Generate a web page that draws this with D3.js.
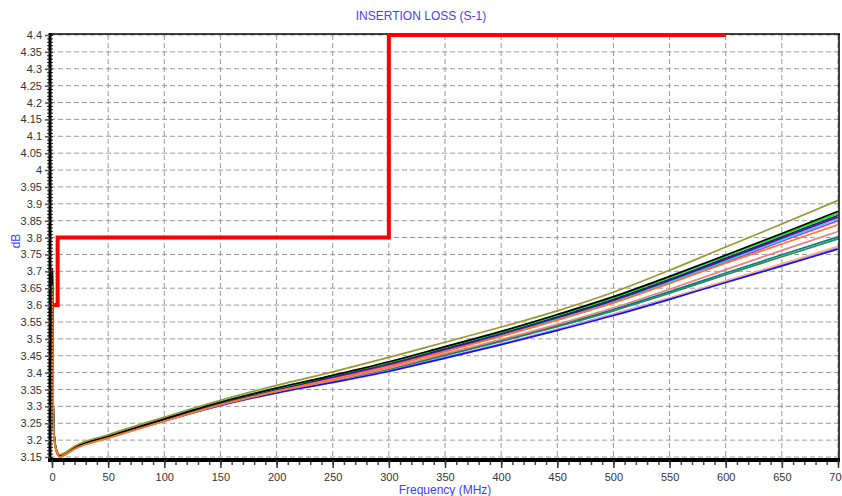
<!DOCTYPE html>
<html>
<head>
<meta charset="utf-8">
<script src="https://cdn.jsdelivr.net/npm/d3@7"></script>
<style>
  body { margin: 0; background: #fff; }
  svg { display: block; font-family: "Liberation Sans", Arial, sans-serif; }
</style>
</head>
<body>
<div id="chart"></div>
<script>
// frequency points (MHz)
const freq = [0.3, 1, 2, 4, 7, 10, 20, 50, 100, 150, 200, 250, 300, 350, 400, 450, 500, 550, 600, 650, 700];

// measured insertion loss (dB), one array per trace
const olive    = [3.66, 3.31, 3.21, 3.172, 3.157, 3.160, 3.182, 3.216, 3.268, 3.318, 3.362, 3.402, 3.445, 3.490, 3.535, 3.583, 3.638, 3.703, 3.772, 3.840, 3.910];
const black    = [3.70, 3.32, 3.21, 3.170, 3.154, 3.157, 3.178, 3.211, 3.263, 3.312, 3.354, 3.392, 3.432, 3.477, 3.522, 3.572, 3.625, 3.685, 3.748, 3.812, 3.878];
const lime     = [3.68, 3.31, 3.21, 3.170, 3.154, 3.157, 3.178, 3.211, 3.264, 3.312, 3.353, 3.391, 3.430, 3.475, 3.520, 3.570, 3.622, 3.682, 3.745, 3.808, 3.872];
const navy     = [3.69, 3.31, 3.21, 3.169, 3.153, 3.156, 3.177, 3.210, 3.262, 3.310, 3.351, 3.388, 3.427, 3.471, 3.516, 3.565, 3.617, 3.676, 3.739, 3.802, 3.866];
const purple   = [3.71, 3.32, 3.21, 3.169, 3.153, 3.156, 3.177, 3.210, 3.262, 3.310, 3.350, 3.387, 3.425, 3.469, 3.514, 3.563, 3.614, 3.673, 3.735, 3.798, 3.861];
const cyan     = [3.64, 3.30, 3.20, 3.168, 3.153, 3.157, 3.179, 3.213, 3.266, 3.314, 3.355, 3.390, 3.426, 3.469, 3.513, 3.560, 3.611, 3.669, 3.731, 3.793, 3.856];
const magenta  = [3.66, 3.31, 3.21, 3.168, 3.152, 3.155, 3.176, 3.209, 3.261, 3.309, 3.349, 3.384, 3.422, 3.466, 3.510, 3.557, 3.608, 3.666, 3.727, 3.789, 3.850];
const salmon   = [3.62, 3.30, 3.20, 3.166, 3.151, 3.154, 3.174, 3.206, 3.257, 3.305, 3.344, 3.377, 3.413, 3.456, 3.498, 3.543, 3.592, 3.647, 3.705, 3.762, 3.818];
const teal     = [3.65, 3.31, 3.21, 3.168, 3.153, 3.156, 3.177, 3.210, 3.260, 3.307, 3.345, 3.377, 3.412, 3.453, 3.495, 3.540, 3.587, 3.640, 3.695, 3.749, 3.802];
const seagreen = [3.64, 3.30, 3.21, 3.168, 3.152, 3.156, 3.177, 3.209, 3.259, 3.306, 3.344, 3.376, 3.410, 3.451, 3.492, 3.536, 3.583, 3.635, 3.690, 3.743, 3.796];
const blue     = [3.67, 3.31, 3.21, 3.168, 3.152, 3.155, 3.175, 3.207, 3.257, 3.303, 3.340, 3.371, 3.404, 3.443, 3.483, 3.525, 3.569, 3.617, 3.667, 3.716, 3.766];
const peach    = [3.61, 3.30, 3.20, 3.166, 3.151, 3.154, 3.174, 3.206, 3.256, 3.302, 3.339, 3.370, 3.403, 3.443, 3.483, 3.526, 3.571, 3.620, 3.671, 3.722, 3.774];
const lavender = [3.65, 3.31, 3.21, 3.167, 3.152, 3.155, 3.175, 3.207, 3.257, 3.303, 3.340, 3.372, 3.405, 3.445, 3.485, 3.528, 3.573, 3.621, 3.671, 3.721, 3.771];
const orange   = [3.63, 3.30, 3.20, 3.165, 3.150, 3.154, 3.174, 3.206, 3.256, 3.305, 3.345, 3.380, 3.418, 3.462, 3.507, 3.555, 3.606, 3.664, 3.724, 3.781, 3.838];

// limit line
const limitFreq = [1, 5, 5, 300, 300, 600];
const limitDb   = [3.6, 3.6, 3.8, 3.8, 4.4, 4.4];

// ticks
const xTicks = [0, 50, 100, 150, 200, 250, 300, 350, 400, 450, 500, 550, 600, 650, 700];
const yTicks = [3.15, 3.2, 3.25, 3.3, 3.35, 3.4, 3.45, 3.5, 3.55, 3.6, 3.65, 3.7, 3.75, 3.8, 3.85, 3.9, 3.95, 4, 4.05, 4.1, 4.15, 4.2, 4.25, 4.3, 4.35, 4.4];

const series = [
  { v: lavender, c: "#9a8cff" },
  { v: peach,    c: "#ffb27f" },
  { v: blue,     c: "#1010ff" },
  { v: seagreen, c: "#2e8b57" },
  { v: teal,     c: "#008080" },
  { v: salmon,   c: "#f08080" },
  { v: magenta,  c: "#e020e0" },
  { v: cyan,     c: "#00e8f0" },
  { v: purple,   c: "#800080" },
  { v: navy,     c: "#202090" },
  { v: lime,     c: "#00ee00" },
  { v: black,    c: "#000000" },
  { v: olive,    c: "#999933" },
  { v: orange,   c: "#ff7722" }
];

const W = 842, H = 496;
const pLeft = 50, pRight = 839, pTop = 35, pBottom = 460;

const svg = d3.select("#chart").append("svg")
  .attr("width", W).attr("height", H);
svg.append("rect").attr("width", W).attr("height", H).attr("fill", "#fff");

const x = d3.scaleLinear().domain([0, 700]).range([52, 838]);
const y = d3.scaleLinear().domain([3.15, 4.4]).range([457, 35]);

// grid
const grid = svg.append("g").attr("stroke", "#9a9a9a").attr("stroke-dasharray", "5,3").attr("stroke-width", 1);
grid.selectAll("line.v").data(xTicks.filter(d => d > 0)).enter().append("line")
  .attr("x1", d => x(d)).attr("x2", d => x(d)).attr("y1", pTop).attr("y2", pBottom);
grid.selectAll("line.h").data(yTicks).enter().append("line")
  .attr("x1", pLeft).attr("x2", pRight).attr("y1", d => y(d)).attr("y2", d => y(d));

// frame top/right
svg.append("line").attr("x1", pLeft).attr("x2", pRight + 1).attr("y1", pTop - 1).attr("y2", pTop - 1)
  .attr("stroke", "#000").attr("stroke-width", 1.5);
svg.append("line").attr("x1", pRight).attr("x2", pRight).attr("y1", pTop - 1).attr("y2", pBottom)
  .attr("stroke", "#000").attr("stroke-width", 1.5);

// traces
const line = d3.line().x((d, i) => x(freq[i])).y(d => y(d)).curve(d3.curveMonotoneX);
svg.append("g").selectAll("path").data(series).enter().append("path")
  .attr("d", d => line(d.v))
  .attr("fill", "none")
  .attr("stroke", d => d.c)
  .attr("stroke-width", 1.7);

// limit
const limLine = d3.line().x((d, i) => x(limitFreq[i])).y(d => y(d));
svg.append("path").attr("d", limLine(limitDb))
  .attr("fill", "none").attr("stroke", "#ff0000").attr("stroke-width", 4);

// x axis
const minorX = d3.range(0, 701, 10);
svg.append("g").attr("transform", `translate(0,${pBottom})`)
  .call(d3.axisBottom(x).tickValues(minorX).tickSize(5).tickFormat(""))
  .call(g => g.select(".domain").remove())
  .call(g => g.selectAll("line").attr("stroke", "#444").attr("stroke-width", 1.5));
const xAxis = svg.append("g").attr("transform", `translate(0,${pBottom})`)
  .call(d3.axisBottom(x).tickValues(xTicks).tickSize(8).tickPadding(5).tickSizeOuter(0));
xAxis.select(".domain").attr("stroke", "#000").attr("stroke-width", 4).attr("d", `M${pLeft - 2},0H${pRight + 1}`);
xAxis.selectAll("line").attr("stroke", "#333").attr("stroke-width", 1.5);
xAxis.selectAll("text").attr("fill", "#333").style("font-size", "11px");

// y axis
const minorY = d3.range(315, 441).map(d => d / 100);
svg.append("g").attr("transform", `translate(${pLeft},0)`)
  .call(d3.axisLeft(y).tickValues(minorY).tickSize(3).tickFormat(""))
  .call(g => g.select(".domain").remove())
  .call(g => g.selectAll("line").attr("stroke", "#222").attr("stroke-width", 1).attr("x2", 3).attr("x1", -3));
const yAxis = svg.append("g").attr("transform", `translate(${pLeft},0)`)
  .call(d3.axisLeft(y).tickValues(yTicks).tickSize(5).tickPadding(3).tickSizeOuter(0)
    .tickFormat(d => String(+d.toFixed(2))));
yAxis.select(".domain").attr("stroke", "#000").attr("stroke-width", 3).attr("d", `M0,${pTop - 2}V${pBottom}`);
yAxis.selectAll("line").attr("stroke", "#555").attr("stroke-width", 1.5);
yAxis.selectAll("text").attr("fill", "#333").style("font-size", "11px");

// titles
svg.append("text").attr("x", 421).attr("y", 20).attr("text-anchor", "middle")
  .attr("fill", "#4a3cff").style("font-size", "12px").text("INSERTION LOSS (S-1)");
svg.append("text").attr("transform", "translate(20,241) rotate(-90)").attr("text-anchor", "middle")
  .attr("fill", "#3c3cff").style("font-size", "12px").text("dB");
svg.append("text").attr("x", 445).attr("y", 494).attr("text-anchor", "middle")
  .attr("fill", "#3c3cff").style("font-size", "12px").text("Frequency (MHz)");
</script>
</body>
</html>
